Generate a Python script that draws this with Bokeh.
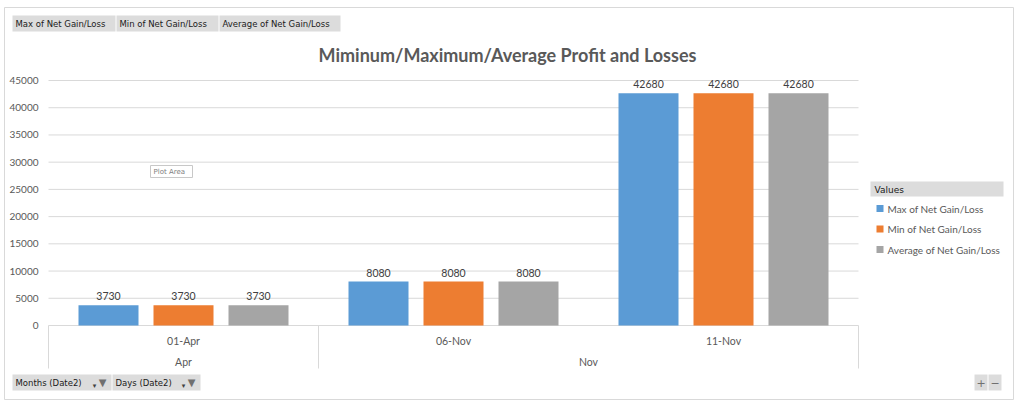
from bokeh.plotting import figure
from bokeh.models import Range1d, ColumnDataSource
from bokeh.transform import dodge
from bokeh.core.properties import value
from bokeh.embed import file_html
from bokeh.resources import INLINE

# ---------------- data ----------------
days = ["01-Apr", "06-Nov", "11-Nov"]
months = ["Apr", "Nov", "Nov"]
series_names = ["Max of Net Gain/Loss", "Min of Net Gain/Loss", "Average of Net Gain/Loss"]
max_vals = [3730, 8080, 42680]
min_vals = [3730, 8080, 42680]
avg_vals = [3730, 8080, 42680]
y_ticks = [0, 5000, 10000, 15000, 20000, 25000, 30000, 35000, 40000, 45000]
title_text = "Miminum/Maximum/Average Profit and Losses"
filter_fields = ["Months (Date2)", "Days (Date2)"]

# ---------------- layout / style ----------------
W, H = 1024, 403
FRAME_L, FRAME_R = 48, 858
ZERO_PX, TOP_PX = 325, 80
N = len(days)
CAT_PX = (FRAME_R - FRAME_L) / N
PER_PX = y_ticks[-1] / (ZERO_PX - TOP_PX)
colors = ["#5B9BD5", "#ED7D31", "#A5A5A5"]
BAR_W = 60 / CAT_PX
OFFSETS = [-75 / CAT_PX, 0.0, 75 / CAT_PX]
FONT = "Lato"
TXT = "#595959"
GRID = "#d9d9d9"


def X(px):
    # category units: category i occupies [i, i+1]
    return (px - FRAME_L) / CAT_PX


def Y(py):
    return (ZERO_PX - py) * PER_PX


p = figure(width=W, height=H,
           x_range=Range1d(X(0), X(W)), y_range=Range1d(Y(H), Y(0)),
           output_backend="svg", toolbar_location=None,
           min_border_left=0, min_border_right=0, min_border_top=0, min_border_bottom=0)
p.outline_line_color = None
p.background_fill_color = "white"
p.border_fill_color = "white"
p.xaxis.visible = False
p.yaxis.visible = False
p.xgrid.visible = False
p.ygrid.visible = False

# value axis: gridlines + tick labels
p.segment(x0=[0] * len(y_ticks), x1=[N] * len(y_ticks), y0=y_ticks, y1=y_ticks,
          line_color=GRID, line_width=1)
p.text(x=[X(38)] * len(y_ticks), y=y_ticks, text=[str(t) for t in y_ticks],
       text_align="right", text_baseline="middle",
       text_font=value(FONT), text_font_size="10px", text_color=TXT)

src = ColumnDataSource(dict(
    xc=[i + 0.5 for i in range(N)],
    v0=max_vals, v1=min_vals, v2=avg_vals,
    t0=[str(v) for v in max_vals], t1=[str(v) for v in min_vals], t2=[str(v) for v in avg_vals],
))

for k in range(3):
    p.vbar(x=dodge("xc", OFFSETS[k]), top=f"v{k}", bottom=0, width=BAR_W,
           source=src, fill_color=colors[k], line_color=None)
    p.text(x=dodge("xc", OFFSETS[k]), y=f"v{k}", text=f"t{k}", source=src,
           text_align="center", text_baseline="bottom", y_offset=-5,
           text_font=value(FONT), text_font_size="10.5px", text_color="#404040")

# category axis (Excel style, two levels)
bounds = [0] + [i for i in range(1, N) if months[i] != months[i - 1]] + [N]
p.segment(x0=bounds, x1=bounds, y0=[0] * len(bounds), y1=[Y(368)] * len(bounds),
          line_color=GRID, line_width=1)
p.text(x=[i + 0.5 for i in range(N)], y=[Y(340)] * N, text=days, text_align="center",
       text_baseline="middle", text_font=value(FONT), text_font_size="10.5px", text_color=TXT)
grp_names = [months[b] for b in bounds[:-1]]
grp_x = [(bounds[i] + bounds[i + 1]) / 2 for i in range(len(bounds) - 1)]
p.text(x=grp_x, y=[Y(361)] * len(grp_x), text=grp_names, text_align="center",
       text_baseline="middle", text_font=value(FONT), text_font_size="10.5px", text_color=TXT)


def box(x0, x1, y0, y1, fill="#dadada", line=None):
    p.quad(left=[X(x0)], right=[X(x1)], top=[Y(y0)], bottom=[Y(y1)],
           fill_color=fill, fill_alpha=0 if fill is None else 1,
           line_color=line if line else None)


def label(px, py, text, size="10px", color="#262626", align="left", bold=False, font=FONT):
    p.text(x=[X(px)], y=[Y(py)], text=[text], text_font=value(font), text_font_size=size,
           text_color=color, text_align=align, text_baseline="middle",
           text_font_style="bold" if bold else "normal")


# outer chart border
box(4, 1013, 7, 399, fill=None, line=GRID)

# title
label(507, 54, title_text, size="18px", color=TXT, align="center", bold=True)

# value field buttons (top)
for (x0, x1), name in zip([(12, 115), (116, 218), (219, 340)], series_names):
    box(x0, x1, 15, 31, fill="#dcdcdc")
    label(x0 + 3, 23, name, size="8.5px", color="#1a1a1a", font="DejaVu Sans")

# axis field buttons (bottom)
for (x0, x1), name in zip([(12, 111), (112, 200)], filter_fields):
    box(x0, x1, 374, 390, fill="#dcdcdc")
    label(x0 + 3, 382, name, size="8.5px", color="#1a1a1a", font="DejaVu Sans")
    label(x1 - 9, 382, "\u25BC", size="10px", color="#707070", align="center", font="DejaVu Sans")
    label(x1 - 17, 385, "\u25BE", size="7px", color="#404040", align="center", font="DejaVu Sans")

# zoom buttons
for (x0, x1), s in zip([(974, 987), (988, 1001)], ["+", "\u2212"]):
    box(x0, x1, 374, 390, fill="#dcdcdc")
    label((x0 + x1) / 2, 382, s, size="11px", color="#707070", align="center", font="DejaVu Sans")

# "Plot Area" hover tip
box(150, 192, 165, 177, fill="white", line="#c8c8c8")
label(153, 171, "Plot Area", size="7px", color="#808080", font="DejaVu Sans")

# legend
box(870, 1003, 181, 196, fill="#dcdcdc")
label(874, 189, "Values", size="9px", color="#1a1a1a", font="DejaVu Sans")
for k, name in enumerate(series_names):
    cy = 208 + k * 20.5
    box(876, 883, cy - 3.5, cy + 3.5, fill=colors[k])
    label(887, cy, name, size="10px", color=TXT)

with open("out.html", "w") as f:
    f.write(file_html(p, INLINE))
